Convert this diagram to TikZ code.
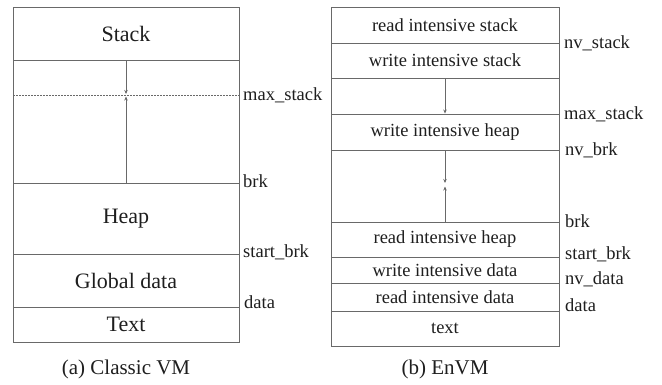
\documentclass[tikz,border=0pt]{standalone}
\usepackage{fontspec}
\setmainfont{Liberation Serif}
\usetikzlibrary{arrows.meta}
\definecolor{linec}{RGB}{105,105,105}
\definecolor{textc}{RGB}{30,30,30}
\tikzset{
  seg/.style={draw=linec, line width=0.9pt, inner sep=0pt, text=textc},
  segA/.style={seg, minimum width=226pt, font=\fontsize{22}{24}\selectfont},
  segB/.style={seg, minimum width=228pt, font=\fontsize{18.5}{20}\selectfont},
  addr/.style={anchor=west, inner sep=0pt, text=textc, font=\fontsize{18.5}{20}\selectfont},
  capt/.style={inner sep=0pt, text=textc, font=\fontsize{21}{23}\selectfont},
  growarrow/.style={draw=linec, line width=0.8pt, -{Stealth[length=4pt,width=3.5pt]}},
}
\begin{document}
\begin{tikzpicture}[x=1pt,y=-1pt]
\useasboundingbox (0,0) rectangle (662,384);
% ---- Classic VM ----
\node[segA, minimum height=53pt] (stackA) at (126,33.5) {Stack};
\node[segA, minimum height=123pt] (gapA) at (126,121.5) {};
\node[segA, minimum height=71pt] (heapA) at (126,218.5) {Heap};
\node[segA, minimum height=53pt] (globA) at (126,280.5) {Global data};
\node[segA, minimum height=35pt] (textA) at (126,324.5) {Text};
\coordinate (msL) at (13,95);
\coordinate (msR) at (239,95);
\draw[linec, line width=0.9pt, dash pattern=on 2pt off 1pt] (msL) -- (msR);
\coordinate (meetA1) at (126,94);
\coordinate (meetA2) at (126,96.5);
\draw[growarrow] (stackA.south) -- (meetA1);
\draw[growarrow] (heapA.north) -- (meetA2);
\node[addr] (lmaxA) at (243,95) {max\_stack};
\node[addr] (lbrkA) at (243,181) {brk};
\node[addr] (lsbrkA) at (243,252) {start\_brk};
\node[addr] (ldataA) at (244,302) {data};
\node[capt] (captA) at (126,369) {(a) Classic VM};
% ---- EnVM ----
\node[segB, minimum height=36pt] (ris) at (445,25) {read intensive stack};
\node[segB, minimum height=35pt] (wis) at (445,60.5) {write intensive stack};
\node[segB, minimum height=36pt] (gap1) at (445,96) {};
\node[segB, minimum height=36pt] (wih) at (445,132) {write intensive heap};
\node[segB, minimum height=72pt] (gap2) at (445,186) {};
\node[segB, minimum height=35pt] (rih) at (445,239.5) {read intensive heap};
\node[segB, minimum height=26pt] (wid) at (445,270) {write intensive data};
\node[segB, minimum height=28pt] (rid) at (445,297) {read intensive data};
\node[segB, minimum height=35pt] (txtB) at (445,328.5) {text};
\draw[growarrow] (wis.south) -- (wih.north);
\coordinate (meetB1) at (445,183);
\coordinate (meetB2) at (445,186.5);
\draw[growarrow] (wih.south) -- (meetB1);
\draw[growarrow] (rih.north) -- (meetB2);
\node[addr] (lnvs) at (564,43) {nv\_stack};
\node[addr] (lmaxB) at (564,114) {max\_stack};
\node[addr] (lnvb) at (565,150) {nv\_brk};
\node[addr] (lbrkB) at (565,221) {brk};
\node[addr] (lsbrkB) at (565,254) {start\_brk};
\node[addr] (lnvd) at (565,279) {nv\_data};
\node[addr] (ldataB) at (565,305) {data};
\node[capt] (captB) at (445,369) {(b) EnVM};
\end{tikzpicture}
\end{document}
